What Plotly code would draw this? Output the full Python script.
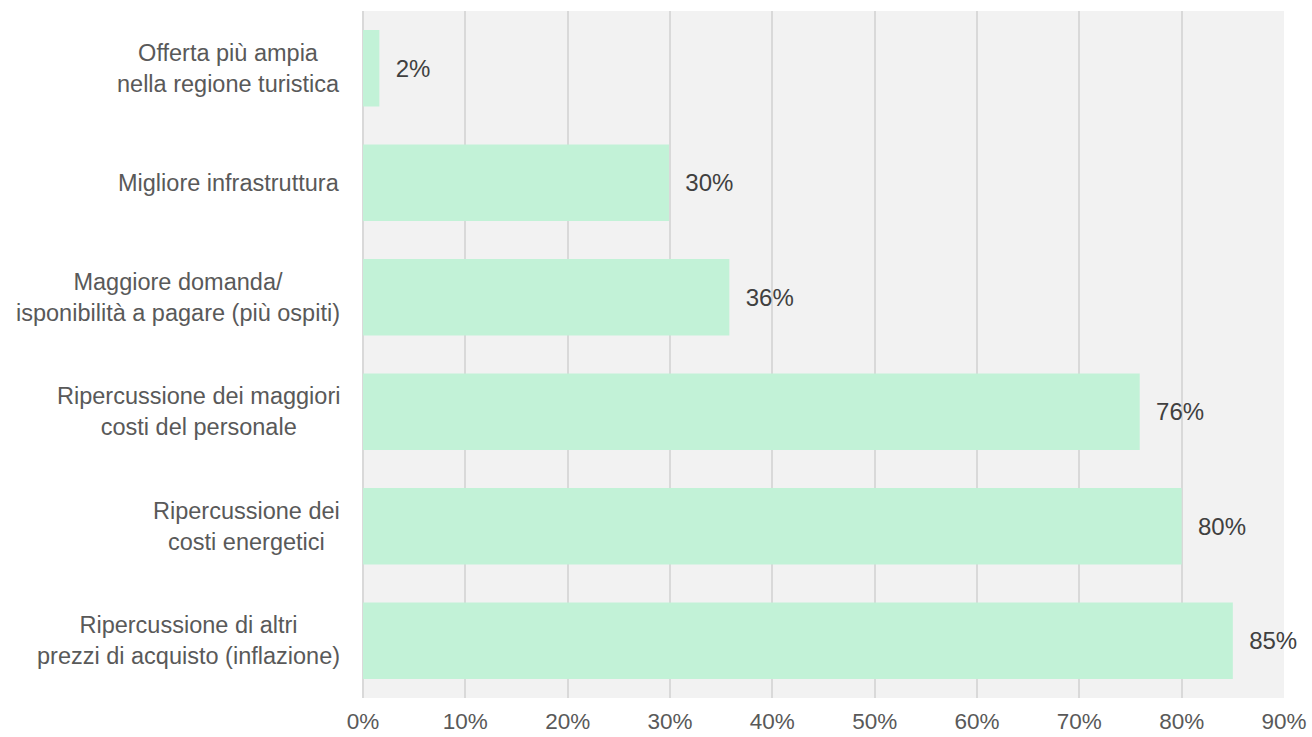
import plotly.graph_objects as go

categories = [
    "Offerta più ampia<br>nella regione turistica",
    "Migliore infrastruttura",
    "Maggiore domanda/<br>isponibilità a pagare (più ospiti)",
    "Ripercussione dei maggiori<br>costi del personale",
    "Ripercussione dei<br>costi energetici",
    "Ripercussione di altri<br>prezzi di acquisto (inflazione)",
]
values = [1.6, 29.9, 35.8, 75.9, 80.0, 85.0]
x_ticks = [0, 10, 20, 30, 40, 50, 60, 70, 80, 90]
x_tick_labels = [f"{t}%" for t in x_ticks]

FONT = "Liberation Sans, Arial, sans-serif"

fig = go.Figure()
fig.add_trace(go.Bar(
    y=categories,
    x=values,
    orientation="h",
    marker=dict(color="#C2F2D7", line=dict(width=0)),
    width=0.67,
    text=[f"\u00a0\u00a0{round(v)}%" for v in values],
    textposition="outside",
    textfont=dict(family=FONT, size=24, color="#404040"),
    cliponaxis=False,
    hoverinfo="skip",
))

for c in categories:
    fig.add_annotation(
        x=0, xref="paper", y=c, yref="y",
        text=c, showarrow=False,
        xanchor="right", yanchor="middle", align="center",
        xshift=-21,
        font=dict(family=FONT, size=23.5, color="#595959"),
    )

fig.update_layout(
    width=1312, height=737,
    margin=dict(l=363, r=28, t=11, b=39),
    paper_bgcolor="white",
    plot_bgcolor="#F2F2F2",
    showlegend=False,
    bargap=0.33,
    font=dict(family=FONT, size=23, color="#595959"),
)
fig.update_xaxes(
    range=[0, 90],
    tickvals=x_ticks,
    ticktext=x_tick_labels,
    showgrid=True, gridcolor="#D9D9D9", gridwidth=2,
    zeroline=True, zerolinecolor="#D9D9D9", zerolinewidth=2,
    showline=False,
    ticks="",
    automargin=False,
    ticklabelstandoff=7,
    tickfont=dict(family=FONT, size=22.5, color="#595959"),
)
fig.update_yaxes(
    categoryorder="array", categoryarray=categories,
    autorange="reversed",
    automargin=False,
    showticklabels=False,
    showgrid=False, zeroline=False, showline=False, ticks="",
)

fig.write_html("out.html")
